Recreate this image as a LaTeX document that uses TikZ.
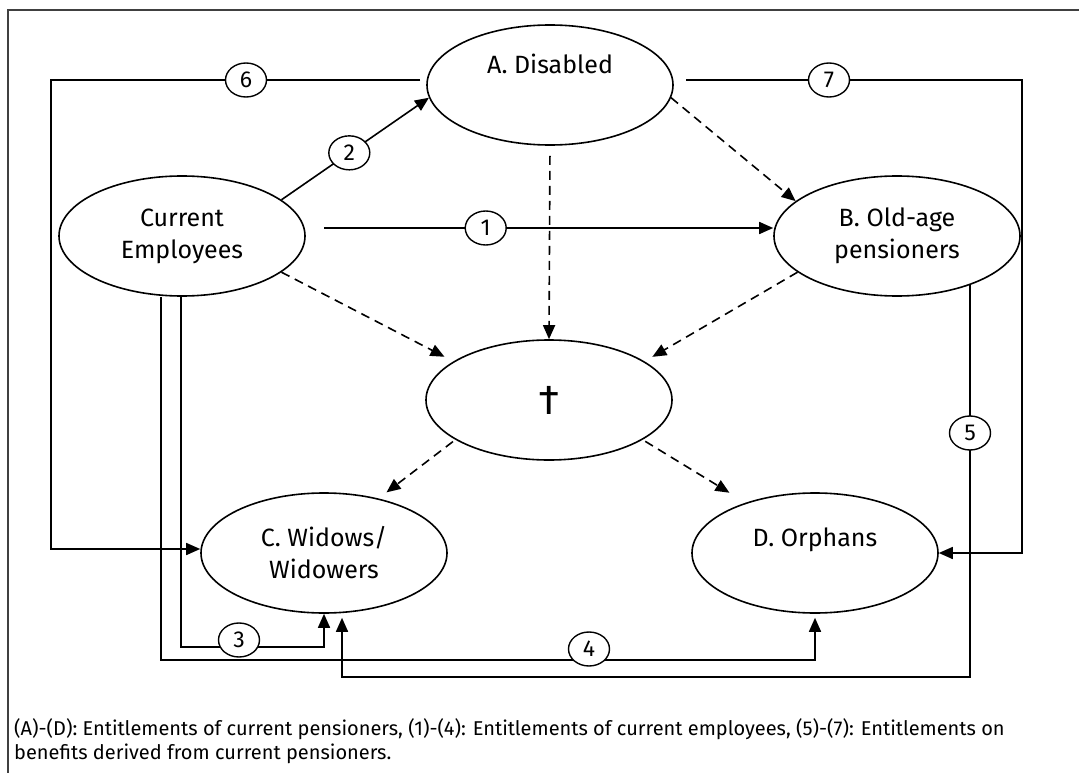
\documentclass[tikz,border=0pt]{standalone}
\usepackage{fontspec}
\setmainfont{Fira Sans}
\usetikzlibrary{arrows.meta,shapes.geometric,calc}
\begin{document}
\begin{tikzpicture}[x=1pt,y=-1pt,
  ell/.style={ellipse,draw,line width=1.6pt,minimum width=246pt,minimum height=120pt,inner sep=0pt,align=center,font=\fontsize{25}{32}\selectfont},
  num/.style={ellipse,draw,line width=1.4pt,fill=white,minimum width=41pt,minimum height=34pt,inner sep=0pt,font=\fontsize{23}{23}\selectfont},
  conn/.style={line width=1.6pt},
  arr/.style={conn,-{Triangle[length=14pt,width=12pt]}},
  darr/.style={arr,dash pattern=on 9pt off 6pt},
]
\useasboundingbox (0,0) rectangle (1079,773);
\draw[line width=2pt,black!75] (8,773) -- (8,10) -- (1079,10);

% main ellipses
\node[ell] (A) at (550,85) {A. Disabled\\[10pt]\mbox{}};
\node[ell] (CE) at (182,236) {Current\\Employees};
\node[ell] (B) at (897,236) {B. Old-age\\pensioners};
\node[ell] (X) at (549,400) {\fontsize{42}{42}\selectfont †};
\node[ell] (C) at (324,553) {C. Widows/\\Widowers};
\node[ell] (D) at (815,553) {D. Orphans\\\mbox{}};

% 6
\coordinate (s6) at (420,80);
\node[num] (n6) at (246,80) {6};
\draw[conn] (s6) -- (n6);
\draw[arr] (n6) -- (51,80) |- ([yshift=4pt]C.west);
% 7
\coordinate (s7) at (686,80);
\node[num] (n7) at (829,80) {7};
\draw[conn] (s7) -- (n7);
\draw[arr] (n7) -- (1022,80) |- (D.east);
% 2
\draw[arr] (CE.20) -- node[num,pos=0.46] (n2) {2} (A.186);
% 1
\coordinate (s1) at (324,228);
\draw[arr] (s1) -- node[num,pos=0.36] (n1) {1} (s1 -| B.west);

% dashed
\draw[darr] (A.-6) -- (B.161);
\draw[darr,shorten <=10pt] (A.south) -- (X.north);
\draw[darr,shorten >=10pt] (CE.-20) -- (X.158);
\draw[darr,shorten >=9pt] (B.200) -- (X.22);
\draw[darr,shorten <=3pt,shorten >=10pt] (X.203) -- (C.45);
\draw[darr,shorten <=3pt,shorten >=19pt] (X.-23) -- (D.144);

% 3
\draw[arr] ([xshift=-1pt]CE.south) -- ([xshift=-1pt]CE.south |- 0,647) -| (C.south);
\node[num] (n3) at (239,640) {3};
% 4
\draw[arr,shorten >=4pt] ([xshift=-21pt]CE.south) -- ([xshift=-21pt]CE.south |- 0,660) -| (D.south);
\node[num] (n4) at (589,649) {4};
% 5
\coordinate (s5) at ([xshift=73pt]B.south |- B.-33);
\draw[arr,shorten >=4pt] (s5) -- (s5 |- 0,677) -| ([xshift=18pt]C.south);
\node[num] (n5) at (s5 |- 0,433) {5};

% caption
\node[anchor=north west,inner sep=0pt,align=left,font=\fontsize{20}{24}\selectfont] (cap) at (14,718)
  {(A)-(D): Entitlements of current pensioners, (1)-(4): Entitlements of current employees, (5)-(7): Entitlements on\\
   benefits derived from current pensioners.};
\end{tikzpicture}
\end{document}
